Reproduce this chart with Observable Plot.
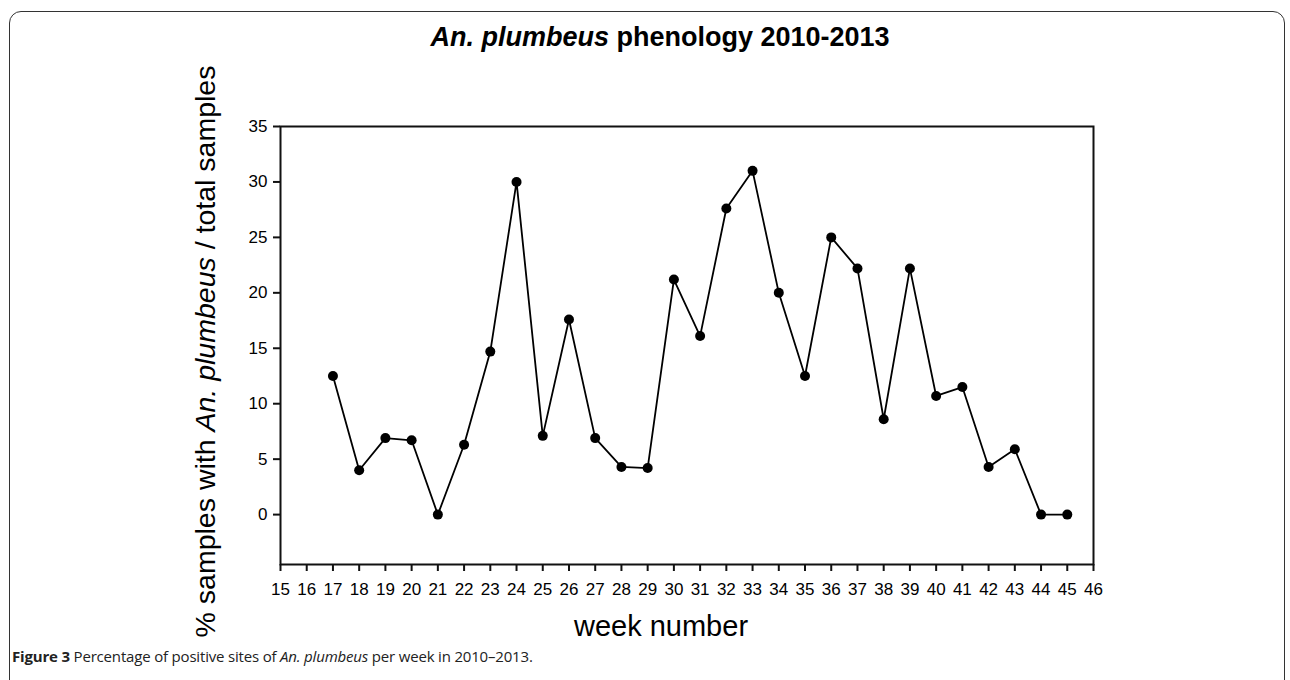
<!DOCTYPE html>
<html>
<head>
<meta charset="utf-8">
<script src="https://cdn.jsdelivr.net/npm/d3@7"></script>
<script src="https://cdn.jsdelivr.net/npm/@observablehq/plot@0.6"></script>
<style>
  html, body { margin: 0; padding: 0; background: #fff; }
  #page { position: relative; width: 1290px; height: 680px; overflow: hidden; font-family: "Liberation Sans", Arial, sans-serif; }
  #border { position: absolute; left: 9px; top: 11px; width: 1276px; height: 720px; border: 1.5px solid #333; border-radius: 12px; box-sizing: border-box; }
  #title { position: absolute; left: 660px; top: 24px; transform: translateX(-50%); white-space: nowrap; font: bold 27px/27px "Liberation Sans", Arial, sans-serif; color: #000; }
  #chart { position: absolute; left: 0; top: 40px; }
  #caption { position: absolute; left: 12px; top: 649px; white-space: nowrap; font: 15px/15px "Open Sans", sans-serif; letter-spacing: -0.18px; color: #222; }
</style>
</head>
<body>
<div id="page">
  <div id="border"></div>
  <div id="title"><i>An. plumbeus</i> phenology 2010-2013</div>
  <div id="chart"></div>
  <div id="caption"><b>Figure 3</b> Percentage of positive sites of <i>An. plumbeus</i> per week in 2010–2013.</div>
</div>
<script>
const weeks = [17,18,19,20,21,22,23,24,25,26,27,28,29,30,31,32,33,34,35,36,37,38,39,40,41,42,43,44,45];
const percent = [12.5,4.0,6.9,6.7,0,6.3,14.7,30.0,7.1,17.6,6.9,4.3,4.2,21.2,16.1,27.6,31.0,20.0,12.5,25.0,22.2,8.6,22.2,10.7,11.5,4.3,5.9,0,0];
const xTicks = d3.range(15, 47);
const yTicks = [0,5,10,15,20,25,30,35];
const xLabel = "week number";
const yLabel = "% samples with An. plumbeus / total samples";

const data = weeks.map((w, i) => ({week: w, pct: percent[i]}));

const chart = Plot.plot({
  width: 1290,
  height: 610,
  marginLeft: 280,
  marginRight: 197,
  marginTop: 86,
  marginBottom: 86,
  style: {fontFamily: "Liberation Sans, Arial, sans-serif", background: "transparent", color: "#000"},
  x: {domain: [15, 46]},
  y: {domain: [-4.5, 35]},
  marks: [
    Plot.frame({stroke: "#111", strokeWidth: 2}),
    Plot.axisX({ticks: xTicks, tickFormat: d => String(d), tickSize: 7, tickPadding: 11, fontSize: 17, label: null, stroke: "#111", strokeWidth: 2}),
    Plot.axisY({ticks: yTicks, tickFormat: d => String(d), tickSize: 7, tickPadding: 6, fontSize: 17, label: null, stroke: "#111", strokeWidth: 2}),
    Plot.line(data, {x: "week", y: "pct", stroke: "#000", strokeWidth: 1.8}),
    Plot.dot(data, {x: "week", y: "pct", r: 5, fill: "#000", stroke: "none"}),
    Plot.text([xLabel], {text: d => d, frameAnchor: "bottom", textAnchor: "middle", lineAnchor: "middle", dy: 62, dx: -26, fontSize: 29, fill: "#000"}),
    Plot.text([yLabel], {text: d => d, frameAnchor: "left", textAnchor: "middle", lineAnchor: "middle", rotate: -90, dx: -75, dy: 6, fontSize: 28.5, fill: "#000"})
  ]
});
document.getElementById("chart").appendChild(chart);

// italicise the species name in the y label
chart.querySelectorAll("text").forEach(t => {
  if (t.textContent === yLabel) {
    const parts = yLabel.split("An. plumbeus");
    while (t.firstChild) t.removeChild(t.firstChild);
    const ns = "http://www.w3.org/2000/svg";
    const a = document.createElementNS(ns, "tspan"); a.textContent = parts[0];
    const b = document.createElementNS(ns, "tspan"); b.textContent = "An. plumbeus"; b.setAttribute("font-style", "italic");
    const c = document.createElementNS(ns, "tspan"); c.textContent = parts[1];
    t.append(a, b, c);
  }
});
</script>
</body>
</html>
